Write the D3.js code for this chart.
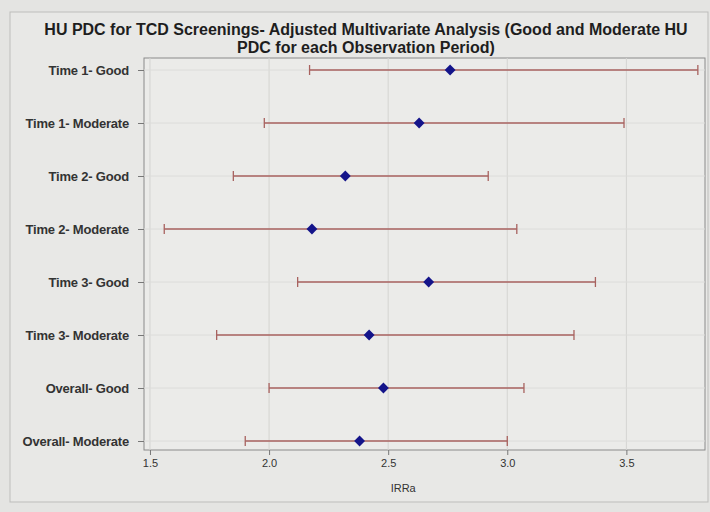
<!DOCTYPE html>
<html>
<head>
<meta charset="utf-8">
<script src="https://cdn.jsdelivr.net/npm/d3@7"></script>
<style>
  body { margin: 0; background: #e4e4e2; }
  svg { display: block; font-family: "Liberation Sans", Arial, sans-serif; }
  .tick text { fill: #333; font-size: 11px; }
</style>
</head>
<body>
<div id="chart"></div>
<script>
const categories = ["Time 1- Good", "Time 1- Moderate", "Time 2- Good", "Time 2- Moderate",
  "Time 3- Good", "Time 3- Moderate", "Overall- Good", "Overall- Moderate"];
const estimate = [2.76, 2.63, 2.32, 2.18, 2.67, 2.42, 2.48, 2.38];
const lower = [2.17, 1.98, 1.85, 1.56, 2.12, 1.78, 2.00, 1.90];
const upper = [3.80, 3.49, 2.92, 3.04, 3.37, 3.28, 3.07, 3.00];
const xTicks = [1.5, 2.0, 2.5, 3.0, 3.5];

const width = 710, height = 512;
const margin = { top: 58, right: 5, bottom: 62, left: 144 };

const svg = d3.select('#chart').append('svg')
  .attr('width', width)
  .attr('height', height);

// outer frame
svg.append('rect')
  .attr('x', 10).attr('y', 12)
  .attr('width', width - 12).attr('height', height - 22)
  .attr('fill', '#e8e8e6').attr('stroke', '#bdbdbb');

const titleLines = ['HU PDC for TCD Screenings- Adjusted Multivariate Analysis (Good and Moderate HU',
  'PDC for each Observation Period)'];
svg.append('g').selectAll('text')
  .data(titleLines)
  .enter().append('text')
  .attr('x', 366).attr('y', (d, i) => 35 + i * 17.5)
  .attr('text-anchor', 'middle')
  .style('font-size', '16px').style('font-weight', 'bold').attr('fill', '#1e1e1e')
  .text(d => d);

const x = d3.scaleLinear()
  .domain([1.475, 3.83])
  .range([margin.left, width - margin.right]);

const y = d3.scalePoint()
  .domain(categories)
  .range([margin.top + 12, height - margin.bottom - 9]);

const plotH = height - margin.bottom - margin.top;

svg.append('rect')
  .attr('x', margin.left).attr('y', margin.top)
  .attr('width', width - margin.right - margin.left).attr('height', plotH)
  .attr('fill', '#ebebe9').attr('stroke', '#8a8a8a');

// grid
svg.append('g')
  .selectAll('line')
  .data(xTicks)
  .enter().append('line')
  .attr('x1', d => x(d)).attr('x2', d => x(d))
  .attr('y1', margin.top).attr('y2', margin.top + plotH)
  .attr('stroke', '#d4d4d2');

svg.append('g')
  .selectAll('line')
  .data(categories)
  .enter().append('line')
  .attr('x1', margin.left).attr('x2', width - margin.right)
  .attr('y1', d => y(d)).attr('y2', d => y(d))
  .attr('stroke', '#dcdcda');

const xAxis = svg.append('g')
  .attr('transform', 'translate(0,' + (margin.top + plotH) + ')')
  .call(d3.axisBottom(x).tickValues(xTicks).tickFormat(d3.format('.1f')).tickSize(5).tickPadding(4));
xAxis.select('.domain').remove();
xAxis.selectAll('line').attr('stroke', '#777');

const yAxis = svg.append('g')
  .attr('transform', 'translate(' + margin.left + ',0)')
  .call(d3.axisLeft(y).tickSize(6).tickPadding(9));
yAxis.select('.domain').remove();
yAxis.selectAll('line').attr('stroke', '#777');
yAxis.selectAll('text').style('font-weight', 'bold').style('font-size', '13px')
  .style('letter-spacing', '-0.2px');
xAxis.selectAll('text').style('font-size', '11px');

svg.append('text')
  .attr('x', x(2.5) + 15).attr('y', 492)
  .attr('text-anchor', 'middle')
  .style('font-size', '11px').attr('fill', '#333')
  .text('IRRa');

const rows = categories.map((c, i) => ({ name: c, est: estimate[i], lo: lower[i], hi: upper[i] }));

const bars = svg.append('g').selectAll('g')
  .data(rows)
  .enter().append('g');

const barColor = '#a8625f';
bars.append('line')
  .attr('x1', d => x(d.lo)).attr('x2', d => x(d.hi))
  .attr('y1', d => y(d.name)).attr('y2', d => y(d.name))
  .attr('stroke', barColor).attr('stroke-width', 1.3);
bars.append('line')
  .attr('x1', d => x(d.lo)).attr('x2', d => x(d.lo))
  .attr('y1', d => y(d.name) - 5).attr('y2', d => y(d.name) + 5)
  .attr('stroke', barColor).attr('stroke-width', 1.3);
bars.append('line')
  .attr('x1', d => x(d.hi)).attr('x2', d => x(d.hi))
  .attr('y1', d => y(d.name) - 5).attr('y2', d => y(d.name) + 5)
  .attr('stroke', barColor).attr('stroke-width', 1.3);

bars.append('path')
  .attr('d', d3.symbol().type(d3.symbolDiamond2).size(75))
  .attr('transform', d => 'translate(' + x(d.est) + ',' + y(d.name) + ')')
  .attr('fill', '#14148a');
</script>
</body>
</html>
